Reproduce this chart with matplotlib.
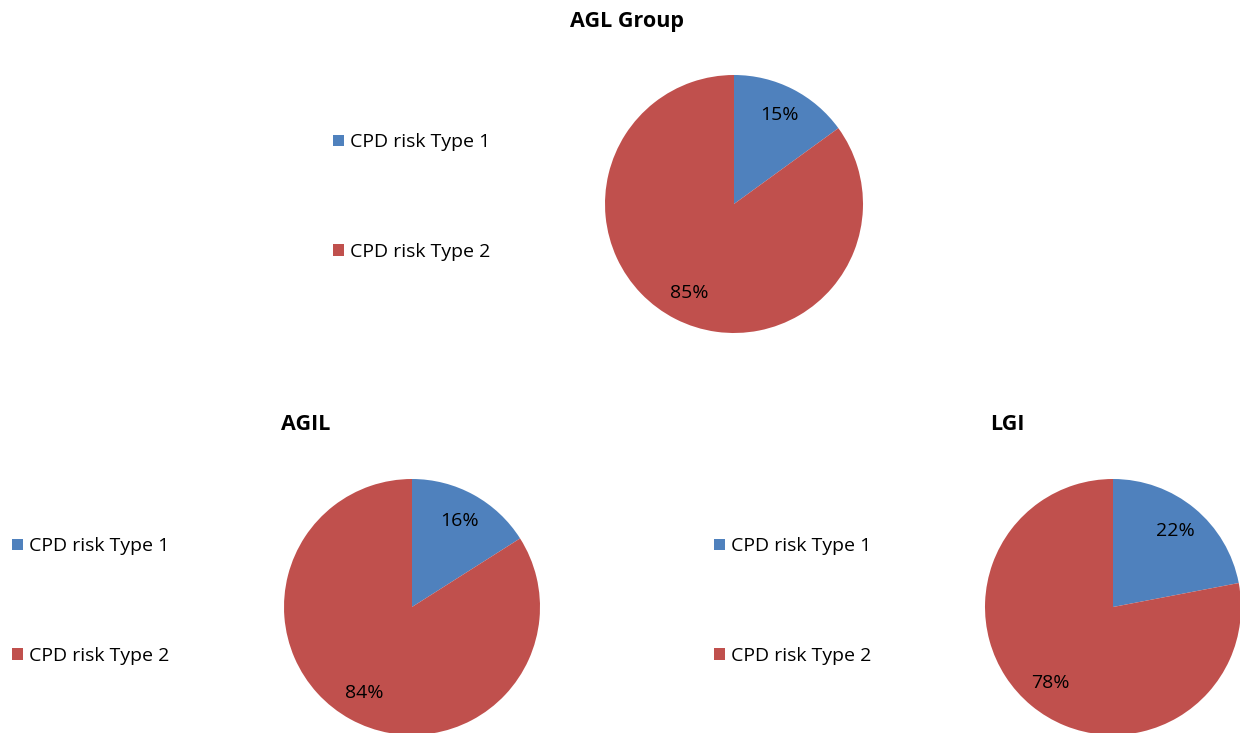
import matplotlib.pyplot as plt
from matplotlib.patches import Patch

# chart data
series_names = ['CPD risk Type 1', 'CPD risk Type 2']
chart_titles = ['AGL Group', 'AGIL', 'LGI']
agl_group = [15, 85]
agil = [16, 84]
lgi = [22, 78]

colors = ['#4F81BD', '#C0504D']
W, H = 1240, 733

fig = plt.figure(figsize=(W / 100, H / 100), dpi=100)
plt.rcParams['font.family'] = ['Open Sans', 'DejaVu Sans']


def pie_at(values, cx, cy, r, title, tx, ty, lx, ly):
    # axes sized so the pie of radius 1 spans 2r pixels
    ax = fig.add_axes([(cx - r) / W, 1 - (cy + r) / H, 2 * r / W, 2 * r / H])
    ax.pie(values, colors=colors, startangle=90, counterclock=False,
           radius=1, autopct='%d%%', pctdistance=0.77,
           textprops={'fontsize': 14, 'color': 'black'},
           wedgeprops={'linewidth': 0})
    ax.set_xlim(-1, 1)
    ax.set_ylim(-1, 1)
    ax.set_aspect('equal')
    fig.text(tx / W, 1 - ty / H, title, ha='center', va='center',
             fontsize=15.5, fontweight='bold')
    handles = [Patch(facecolor=c, edgecolor='none') for c in colors]
    fig.legend(handles, series_names, loc='center left',
               bbox_to_anchor=(lx / W, 1 - ly / H), frameon=False,
               fontsize=14, labelspacing=4.7, handlelength=0.55,
               handleheight=0.55, handletextpad=0.3, borderpad=0,
               borderaxespad=0)


pie_at(agl_group, 734, 204, 129, chart_titles[0], 627, 21, 333, 197)
pie_at(agil, 412, 607, 128, chart_titles[1], 306, 424, 12, 601)
pie_at(lgi, 1113, 607, 128, chart_titles[2], 1007, 424, 714, 601)

plt.savefig('out.png', dpi=100)
